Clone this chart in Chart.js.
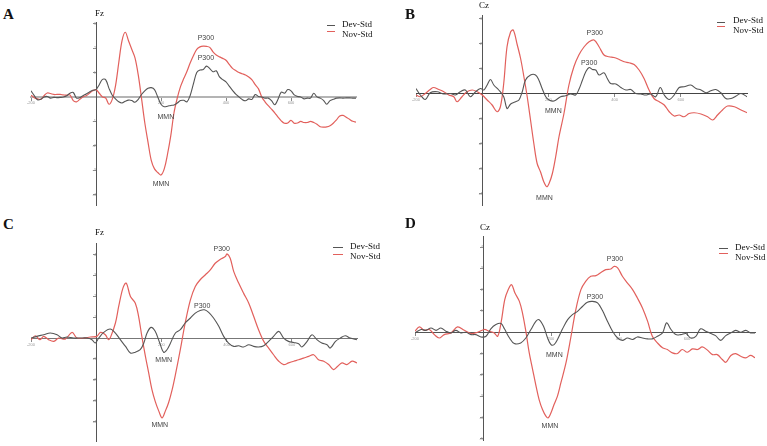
<!DOCTYPE html>
<html>
<head>
<meta charset="utf-8">
<script src="https://cdn.jsdelivr.net/npm/chart.js@4.4.0/dist/chart.umd.min.js"></script>
<style>
  html, body { margin: 0; padding: 0; background: #fff; }
  body { width: 767px; height: 446px; position: relative; overflow: hidden; font-family: "Liberation Serif", serif; }
  canvas { position: absolute; }
  .lbl { position: absolute; white-space: nowrap; color: #111; line-height: 1; }
  .letter { font-weight: bold; font-size: 15px; }
  .elec { font-size: 9px; }
  .leg { font-size: 9px; line-height: 10px; }
  .swatch { position: absolute; height: 1px; }
</style>
</head>
<body>
<script>
// sample times (ms) and amplitudes (µV units of the figure's axis)
const timesA = Array.from({ length: 101 }, (_, i) => -200 + i * 10);
const novA = [
  0.07, -0.03, -0.08, -0.1, 0.05, 0.16, 0.14, 0.1, 0.1, 0.1,
  0.08, 0.07, 0.08, -0.15, -0.2, -0.1, 0, 0.05, 0.15, 0.25,
  0.3, 0.15, 0, -0.05, -0.3, -0.1, 0.45, 1.4, 2.3, 2.65,
  2.3, 1.95, 1.6, 0.9, -0.05, -1.05, -1.85, -2.6, -2.95, -3.1,
  -3.2, -2.95, -2.35, -1.6, -0.65, -0.05, 0.42, 0.75, 1.05, 1.4,
  1.7, 1.95, 2.05, 2.08, 2.07, 2.03, 1.85, 1.72, 1.64, 1.58,
  1.5, 1.33, 1.17, 1.08, 1.0, 0.95, 0.9, 0.82, 0.7, 0.5,
  0.33, 0, -0.2, -0.36, -0.5, -0.65, -0.83, -0.98, -1.08, -1.07,
  -0.96, -1.08, -1.07, -1.0, -1.05, -1.05, -1.0, -1.05, -1.12, -1.22,
  -1.24, -1.23, -1.18, -1.08, -0.94, -0.78, -0.76, -0.83, -0.92, -1.0,
  -1.03
];
const devA = [
  0.25, 0.05, -0.12, -0.1, 0, 0.02, -0.05, -0.02, -0.03, -0.02,
  0, 0.05, 0.15, 0.18, -0.05, -0.03, 0.05, 0.12, 0.2, 0.27,
  0.3, 0.5, 0.72, 0.7, 0.35, 0.07, -0.08, -0.2, -0.25, -0.18,
  -0.13, -0.15, -0.22, -0.1, 0.1, 0.25, 0.35, 0.38, 0.3, 0,
  -0.3, -0.4, -0.38, -0.35, -0.33, -0.25, -0.15, -0.14, -0.2, 0.07,
  0.55, 1.0, 1.1, 1.12, 1.26, 1.16, 1.03, 1.07, 0.82, 0.71,
  0.62, 0.44, 0.27, 0.11, 0, -0.11, -0.16, -0.08, -0.1, 0.1,
  0.02, 0, -0.05, -0.05, -0.15, -0.32, -0.1, 0.2, 0.15, 0.3,
  0.25, 0.08, 0.02, 0, -0.08, -0.05, -0.05, 0.15, 0, -0.05,
  -0.14, -0.3, -0.15, -0.1, -0.05, -0.04, -0.05, -0.04, -0.04, -0.05,
  -0.05
];

const novBT = [-200, -187, -172, -157, -147, -131, -116, -101, -86, -76, -61, -46, -30, -15, 0, 15, 30, 45, 55, 65,
  75, 86, 94, 106, 116, 126, 136, 146, 156, 166, 176, 186, 195, 202, 212, 222, 232, 247, 262, 277,
  292, 308, 323, 338, 353, 368, 383, 398, 414, 429, 444, 459, 474, 489, 504, 519, 535, 550, 565, 580,
  595, 610, 625, 641, 661, 681, 696, 711, 726, 741, 762, 782, 800];
const novB = [-0.05, -0.12, 0.01, 0.17, 0.25, 0.17, 0.08, -0.05, -0.12, -0.32, -0.12, 0.08, 0.15, 0.08, -0.05, -0.25, -0.45, -0.72, -0.52, 0.41,
  1.88, 2.48, 2.55, 1.95, 1.41, 0.68, -0.12, -1.05, -1.99, -2.79, -3.12, -3.52, -3.72, -3.59, -3.19, -2.52, -1.72, -0.79, 0.35, 1.08,
  1.55, 1.88, 2.08, 2.15, 1.88, 1.55, 1.48, 1.45, 1.37, 1.28, 1.24, 1.17, 0.95, 0.61, 0.15, -0.19, -0.32, -0.45, -0.72, -0.89,
  -0.85, -0.92, -0.79, -0.76, -0.81, -0.92, -1.05, -0.85, -0.65, -0.49, -0.52, -0.65, -0.76];
const devBT = [-200, -187, -172, -157, -136, -116, -96, -81, -66, -51, -36, -20, -5, 5, 15, 25, 35, 50, 65, 75,
  86, 101, 111, 121, 131, 146, 161, 171, 181, 192, 202, 217, 237, 252, 267, 282, 292, 303, 313, 323,
  333, 343, 353, 368, 378, 388, 404, 419, 434, 449, 464, 479, 494, 509, 524, 538, 550, 565, 580, 595,
  610, 630, 646, 661, 676, 691, 706, 721, 736, 752, 767, 782, 800];
const devB = [0.21, -0.05, -0.23, 0.04, 0.08, -0.01, 0.01, -0.05, 0.08, 0.15, -0.12, 0.08, 0.21, 0.15, 0.35, 0.57, 0.35, 0.15, -0.12, -0.59,
  -0.41, -0.32, -0.25, 0.08, 0.55, 0.75, 0.75, 0.55, 0.21, -0.12, -0.25, -0.29, -0.12, -0.08, -0.01, -0.05, 0.17, 0.55, 0.88, 1.05,
  0.97, 0.95, 0.75, 0.84, 0.61, 0.41, 0.39, 0.25, 0.15, 0.17, 0.01, -0.01, -0.05, -0.01, -0.12, 0.25, -0.05, -0.23, -0.05, 0.25,
  0.28, 0.35, 0.21, 0.15, 0.04, 0.12, 0.17, 0.04, -0.19, -0.19, -0.09, 0.01, -0.12];

const novCT = [-200, -187, -173, -161, -146, -130, -115, -95, -74, -59, -38, -18, 2, 13, 28, 38, 45, 59, 69, 82,
  92, 105, 120, 130, 140, 151, 161, 171, 181, 192, 202, 212, 222, 233, 243, 258, 273, 289, 304, 319,
  335, 350, 365, 381, 396, 401, 411, 422, 437, 452, 468, 483, 498, 514, 529, 544, 560, 575, 590, 606,
  621, 636, 652, 667, 682, 698, 713, 728, 741, 754, 769, 785, 800];
const novC = [-0.08, 0.11, -0.08, 0.08, -0.08, -0.16, 0, -0.05, 0.27, 0, 0, 0.05, 0.08, 0.27, 0.16, -0.08, 0.08, 0.72, 1.51, 2.39,
  2.63, 1.99, 1.67, 1.04, 0.08, -0.88, -1.67, -2.47, -3.03, -3.5, -3.82, -3.5, -3.1, -2.47, -1.75, -0.56, 0.72, 1.83, 2.47, 2.79,
  3.03, 3.26, 3.58, 3.77, 3.9, 4.03, 3.82, 3.18, 2.63, 2.15, 1.67, 1.04, 0.4, -0.16, -0.48, -0.8, -1.11, -1.27, -1.19, -1.11,
  -1.04, -0.96, -0.88, -0.8, -1.04, -1.11, -1.27, -1.51, -1.35, -1.19, -1.27, -1.11, -1.19];
const devCT = [-200, -182, -161, -141, -120, -105, -90, -69, -49, -28, -13, -3, 8, 23, 43, 59, 74, 90, 105, 120,
  135, 146, 156, 168, 181, 195, 207, 217, 227, 243, 258, 273, 289, 304, 319, 332, 345, 360, 376, 391,
  406, 422, 437, 452, 468, 483, 498, 514, 529, 544, 560, 575, 590, 606, 621, 631, 647, 662, 677, 692,
  708, 718, 734, 749, 764, 779, 800];
const devC = [0, 0.08, 0.16, 0.24, 0.16, 0, 0.05, 0, 0, 0, -0.08, -0.24, 0, 0.27, 0.43, 0.24, -0.08, -0.4, -0.72, -0.68,
  -0.56, -0.24, 0.24, 0.51, 0.32, -0.24, -0.68, -0.56, -0.27, 0.24, 0.4, 0.72, 0.96, 1.19, 1.32, 1.35, 1.23, 0.96, 0.56, 0.08,
  -0.24, -0.4, -0.37, -0.43, -0.32, -0.4, -0.43, -0.37, -0.16, 0.08, 0.32, 0, -0.16, -0.21, -0.27, -0.43, -0.16, 0.16, -0.08, -0.24,
  -0.32, -0.48, -0.16, 0, 0.11, 0, -0.08];

const novDT = [-200, -187, -173, -158, -143, -129, -114, -94, -75, -55, -35, -16, 4, 18, 33, 43, 53, 64, 74, 84,
  94, 107, 116, 126, 136, 146, 156, 165, 175, 185, 192, 200, 209, 219, 229, 244, 258, 273, 288, 302,
  317, 332, 347, 361, 376, 386, 396, 410, 425, 440, 454, 469, 484, 498, 513, 528, 542, 557, 572, 586,
  601, 616, 631, 645, 660, 675, 689, 704, 714, 729, 743, 758, 773, 787, 800];
const novD = [0.05, 0.25, 0.09, 0.13, -0.11, -0.27, -0.11, -0.03, 0.25, 0.09, -0.06, 0, 0.13, 0.05, -0.03, -0.19, 0.44, 1.53, 2.0, 2.23,
  1.84, 1.45, 0.91, 0.05, -0.97, -1.75, -2.53, -3.16, -3.63, -3.94, -4.02, -3.78, -3.39, -3.0, -2.38, -1.44, -0.27, 1.06, 2.0, 2.39,
  2.63, 2.66, 2.81, 2.94, 2.97, 3.09, 3.02, 2.63, 2.31, 2.0, 1.61, 1.14, 0.52, -0.19, -0.5, -0.73, -0.81, -0.97, -1.0, -0.81,
  -0.94, -0.78, -0.81, -0.69, -0.84, -1.05, -1.05, -1.28, -1.41, -1.09, -1.0, -1.13, -1.2, -1.09, -1.2];
const devDT = [-200, -182, -168, -153, -138, -124, -109, -94, -80, -65, -50, -35, -21, -6, 9, 23, 38, 53, 63, 78,
  92, 111, 126, 141, 156, 165, 178, 190, 200, 209, 219, 234, 249, 263, 278, 293, 307, 322, 337, 351,
  366, 381, 396, 410, 425, 440, 454, 469, 484, 498, 513, 528, 540, 553, 567, 582, 597, 611, 626, 640,
  655, 670, 684, 699, 714, 729, 743, 758, 773, 787, 800];
const devD = [-0.03, 0.13, 0.09, 0.2, 0.09, 0.2, 0.05, -0.03, 0.09, -0.03, 0, -0.11, -0.11, -0.22, -0.19, 0.16, 0.36, 0.41, 0.16, -0.27,
  -0.53, -0.5, -0.27, 0.13, 0.52, 0.59, 0.28, -0.27, -0.58, -0.58, -0.34, 0.16, 0.59, 0.83, 0.98, 1.22, 1.41, 1.45, 1.38, 1.03,
  0.52, 0.05, -0.27, -0.38, -0.27, -0.34, -0.22, -0.27, -0.31, -0.31, -0.19, -0.03, 0.44, 0.13, -0.11, -0.11, -0.06, -0.27, -0.19, 0.16,
  0.05, -0.06, -0.16, -0.38, -0.16, -0.03, 0.09, 0, 0.09, -0.03, -0.03];

const seriesNames = ["Dev-Std", "Nov-Std"];
const xTicks = [-200, 200, 400, 600];

// peak labels: [ms, value, text]
const notesA = [[338, 2.42, "P300"], [338, 1.6, "P300"], [215, -0.82, "MMN"], [200, -3.57, "MMN"]];
const notesB = [[340, 2.42, "P300"], [323, 1.24, "P300"], [215, -0.69, "MMN"], [188, -4.18, "MMN"]];
const notesC = [[385, 4.26, "P300"], [325, 1.55, "P300"], [207, -1.07, "MMN"], [195, -4.18, "MMN"]];
const notesD = [[388, 3.44, "P300"], [329, 1.66, "P300"], [210, -1.08, "MMN"], [197, -4.41, "MMN"]];

const RED = "#e2605c";
const GRAY = "#555";
const PAD = 12;

const zip = (t, v) => t.map((x, i) => ({ x, y: v[i] }));

const peakLabels = {
  id: "peakLabels",
  afterDatasetsDraw(chart, args, opts) {
    const { ctx, scales } = chart;
    ctx.save();
    ctx.font = '7px "Liberation Sans", Arial, sans-serif';
    ctx.fillStyle = "#444";
    ctx.textAlign = "center";
    ctx.textBaseline = "middle";
    (opts.items || []).forEach(([t, v, text]) => {
      ctx.fillText(text, scales.x.getPixelForValue(t), scales.y.getPixelForValue(v));
    });
    ctx.restore();
  },
};

const panels = [
  { letter: "A", elec: "Fz", plot: [31, 22, 325, 183], y: [-4.43, 3.07], dev: zip(timesA, devA), nov: zip(timesA, novA), notes: notesA,
    zero: ["#b4b4b4", 2], letterPos: [3, 6.5], elecPos: [95, 8.5], leg: { sx: 327, sw: 8, gy: 25, ry: 31, tx: 342, ty: 19 } },
  { letter: "B", elec: "Cz", plot: [416, 15, 331, 190], y: [-4.45, 3.15], dev: zip(devBT, devB), nov: zip(novBT, novB), notes: notesB,
    zero: ["#444", 1], letterPos: [405, 6.5], elecPos: [479, 0.5], leg: { sx: 717, sw: 8, gy: 22, ry: 26, tx: 733, ty: 14.6 } },
  { letter: "C", elec: "Fz", plot: [31, 243, 326, 198], y: [-4.93, 4.55], dev: zip(devCT, devC), nov: zip(novCT, novC), notes: notesC,
    zero: ["#777", 1], letterPos: [3, 217], elecPos: [95, 228], leg: { sx: 333, sw: 10, gy: 247, ry: 254, tx: 350, ty: 241 } },
  { letter: "D", elec: "Cz", plot: [415, 236, 340, 204], y: [-5.06, 4.52], dev: zip(devDT, devD), nov: zip(novDT, novD), notes: notesD,
    zero: ["#555", 1], letterPos: [405, 215.5], elecPos: [480, 223], leg: { sx: 719, sw: 9, gy: 248, ry: 253, tx: 735, ty: 242 } },
];

const addDiv = (cls, text, left, top) => {
  const d = document.createElement("div");
  d.className = cls;
  d.textContent = text;
  d.style.left = left + "px";
  d.style.top = top + "px";
  document.body.appendChild(d);
  return d;
};

const addSwatch = (color, left, top, width) => {
  const s = document.createElement("div");
  s.className = "swatch";
  s.style.background = color;
  s.style.left = left + "px";
  s.style.top = top + "px";
  s.style.width = width + "px";
  document.body.appendChild(s);
};

panels.forEach((p) => {
  const [l, t, w, h] = p.plot;
  const canvas = document.createElement("canvas");
  canvas.width = w + PAD * 2;
  canvas.height = h + PAD * 2;
  canvas.style.left = l - PAD + "px";
  canvas.style.top = t - PAD + "px";
  document.body.appendChild(canvas);

  const tickFont = { size: 4, family: "Liberation Sans" };

  new Chart(canvas.getContext("2d"), {
    type: "line",
    data: {
      datasets: [
        { label: seriesNames[0], data: p.dev, borderColor: GRAY, borderWidth: 1.1, tension: 0.35 },
        { label: seriesNames[1], data: p.nov, borderColor: RED, borderWidth: 1.2, tension: 0.35 },
      ],
    },
    options: {
      responsive: false,
      animation: false,
      devicePixelRatio: 1,
      layout: { padding: PAD },
      elements: { point: { radius: 0 } },
      plugins: {
        legend: { display: false },
        tooltip: { enabled: false },
        peakLabels: { items: p.notes },
      },
      scales: {
        x: {
          type: "linear",
          min: -200,
          max: 800,
          position: { y: 0 },
          border: { color: p.zero[0], width: p.zero[1] },
          grid: { drawOnChartArea: false, tickLength: 3, color: "#888" },
          afterBuildTicks: (axis) => {
            axis.ticks = xTicks.map((v) => ({ value: v }));
          },
          ticks: { font: tickFont, color: "#999", padding: 1, maxRotation: 0, autoSkip: false },
        },
        y: {
          min: p.y[0],
          max: p.y[1],
          position: { x: 0 },
          border: { color: "#555", width: 1 },
          grid: { drawOnChartArea: false, tickLength: 3, color: "#888" },
          ticks: {
            stepSize: 1,
            includeBounds: false,
            font: tickFont,
            color: "#999",
            padding: 1,
            callback: (v) => (v === 0 ? "" : v),
          },
        },
      },
    },
    plugins: [peakLabels],
  });

  addDiv("lbl letter", p.letter, p.letterPos[0], p.letterPos[1]);
  addDiv("lbl elec", p.elec, p.elecPos[0], p.elecPos[1]);
  addSwatch(GRAY, p.leg.sx, p.leg.gy, p.leg.sw);
  addSwatch(RED, p.leg.sx, p.leg.ry, p.leg.sw);
  addDiv("lbl leg", seriesNames[0], p.leg.tx, p.leg.ty);
  addDiv("lbl leg", seriesNames[1], p.leg.tx, p.leg.ty + 10);
});
</script>
</body>
</html>
